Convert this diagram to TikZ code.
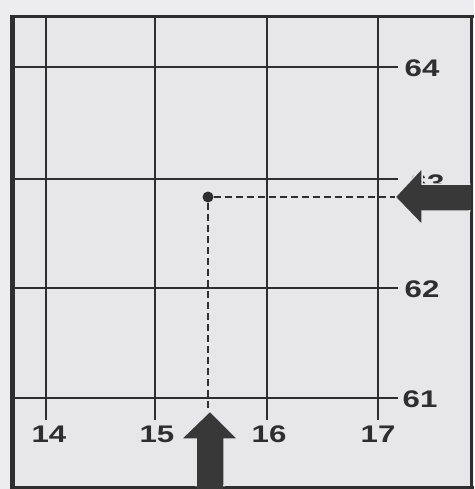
\documentclass[tikz,border=0pt]{standalone}
\usepackage{fontspec}
\usepackage{graphicx}
\setmainfont{Liberation Sans}
\definecolor{paper}{HTML}{E7E7EA}
\definecolor{outer}{HTML}{EDEDEF}
\definecolor{ink}{HTML}{2E2E2E}
\definecolor{arrowink}{HTML}{383838}
\begin{document}
\begin{tikzpicture}[x=1pt,y=-1pt,
  gridline/.style={draw=ink,line width=2.6pt},
  frameline/.style={draw=ink,line width=3pt},
  lbl/.style={inner sep=0pt,text=ink,font=\bfseries\fontsize{24}{24}\selectfont},
  guide/.style={draw=ink,line width=2pt,dash pattern=on 7pt off 4pt},
  bigarrow/.style={fill=arrowink,draw=paper,line width=1.5pt,line join=miter}]
\useasboundingbox (0,0) rectangle (474,489);
\fill[outer] (0,0) rectangle (474,489);
\fill[paper] (12,17) rectangle (471,487);
% grid lines
\foreach \x in {46,155,267,378} \draw[gridline] (\x,17) -- (\x,420);
\foreach \y in {67,179,288,398} \draw[gridline] (14,\y) -- (398,\y);
% frame
\draw[frameline] (12,17) -- (474,17);
\draw[frameline] (471,17) -- (471,489);
\draw[frameline] (12,487) -- (474,487);
\draw[draw=ink,line width=5pt] (12,15.5) -- (12,489);
% labels
\node[lbl] (n64) at (422,68) {\scalebox{1.3}[1]{64}};
\node[lbl] (n63) at (427,183) {\scalebox{1.3}[1]{63}};
\node[lbl] (n62) at (422,289) {\scalebox{1.3}[1]{62}};
\node[lbl] (n61) at (420,399) {\scalebox{1.3}[1]{61}};
\node[lbl] (e14) at (49,434) {\scalebox{1.3}[1]{14}};
\node[lbl] (e15) at (157,434) {\scalebox{1.3}[1]{15}};
\node[lbl] (e16) at (269,434) {\scalebox{1.3}[1]{16}};
\node[lbl] (e17) at (378,434) {\scalebox{1.3}[1]{17}};
% arrows
\coordinate (tipE) at (395,197);
\coordinate (tipS) at (210,411);
\fill[bigarrow] (tipE) -- (422,168) -- (422,184) -- (469.5,184) -- (469.5,211) -- (422,211) -- (422,225) -- cycle;
\fill[bigarrow] (tipS) -- (238,439) -- (224,439) -- (224,485.5) -- (196,485.5) -- (196,439) -- (181,439) -- cycle;
\fill[arrowink] (196.75,440) rectangle (223.25,489);
\fill[arrowink] (423,184.75) rectangle (471,210.25);
% point
\node[circle,fill=ink,inner sep=0pt,minimum size=11pt] (pt) at (208,197) {};
\draw[guide] (pt.east) -- (tipE);
\draw[guide] (pt.south) -- (pt.south |- tipS);
\end{tikzpicture}
\end{document}
